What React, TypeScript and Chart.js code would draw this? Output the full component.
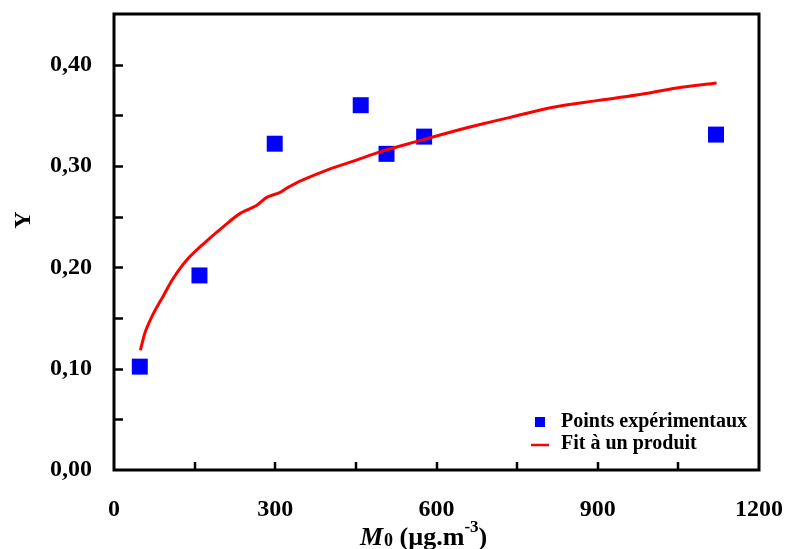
import React, { useEffect, useRef } from 'react';
import { Chart, registerables } from 'chart.js';

Chart.register(...registerables);

// Experimental points
const expX = [48, 159, 299, 459, 507, 577, 1120];
const expY = [0.102, 0.192, 0.322, 0.36, 0.312, 0.329, 0.331];

// Fitted curve
const fitX = [49, 58, 73, 92, 110, 135, 166, 203, 234, 265, 284, 309, 321, 346, 396, 452, 495, 569, 644, 681, 737, 817, 898, 972, 1047, 1121];
const fitY = [0.118, 0.136, 0.154, 0.172, 0.189, 0.207, 0.223, 0.24, 0.253, 0.261, 0.269, 0.274, 0.278, 0.285, 0.296, 0.306, 0.314, 0.325, 0.336, 0.341, 0.348, 0.358, 0.3645, 0.37, 0.377, 0.382];

const xTickLabels = ['0', '300', '600', '900', '1200'];
const yTickLabels = ['0,00', '0,10', '0,20', '0,30', '0,40'];
const legendLabels = ['Points expérimentaux', 'Fit à un produit'];

const FONT = '"Liberation Serif", "Times New Roman", serif';

const noPad = (s: any) => {
  s.paddingLeft = 0;
  s.paddingRight = 0;
  s.paddingTop = 0;
  s.paddingBottom = 0;
};

export default function App() {
  const ref = useRef<HTMLCanvasElement>(null);

  useEffect(() => {
    const canvas = ref.current!;
    const overlay = {
      id: 'overlay',
      afterDraw(chart: any) {
        const ctx = chart.ctx as CanvasRenderingContext2D;
        const a = chart.chartArea;
        const xs = chart.scales.x;
        const ys = chart.scales.y;
        ctx.save();
        // frame
        ctx.strokeStyle = '#000';
        ctx.lineWidth = 3;
        ctx.strokeRect(a.left, a.top, a.right - a.left, a.bottom - a.top);
        // inward ticks
        ctx.lineWidth = 2.5;
        for (let v = 0.05; v < 0.449; v += 0.05) {
          const y = Math.round(ys.getPixelForValue(v)) + 0.5;
          ctx.beginPath();
          ctx.moveTo(a.left, y);
          ctx.lineTo(a.left + 9, y);
          ctx.stroke();
        }
        for (let v = 150; v < 1200; v += 150) {
          const x = Math.round(xs.getPixelForValue(v));
          ctx.beginPath();
          ctx.moveTo(x, a.bottom);
          ctx.lineTo(x, a.bottom - 8);
          ctx.stroke();
        }
        // legend
        ctx.fillStyle = '#0000ff';
        ctx.fillRect(535, 417, 10, 10);
        ctx.strokeStyle = '#ff0000';
        ctx.lineWidth = 2.5;
        ctx.beginPath();
        ctx.moveTo(531, 445);
        ctx.lineTo(549, 445);
        ctx.stroke();
        ctx.fillStyle = '#000';
        ctx.font = `bold 20px ${FONT}`;
        ctx.textBaseline = 'middle';
        ctx.textAlign = 'left';
        ctx.fillText(legendLabels[0], 561, 422);
        ctx.fillText(legendLabels[1], 561, 444);
        // Y title
        ctx.save();
        ctx.translate(30, 220);
        ctx.rotate(-Math.PI / 2);
        ctx.textAlign = 'center';
        ctx.textBaseline = 'alphabetic';
        ctx.font = `bold 24px ${FONT}`;
        ctx.fillText('Y', 0, 0);
        ctx.restore();
        // X title
        ctx.textBaseline = 'alphabetic';
        let x = 360;
        const base = 545;
        ctx.font = `italic bold 26px ${FONT}`;
        ctx.fillText('M', x, base);
        x += ctx.measureText('M').width + 1;
        ctx.font = `bold 18px ${FONT}`;
        ctx.fillText('0', x, base + 1);
        x += ctx.measureText('0').width;
        ctx.font = `bold 26px ${FONT}`;
        ctx.fillText(' (µg.m', x, base);
        x += ctx.measureText(' (µg.m').width;
        ctx.font = `bold 17px ${FONT}`;
        ctx.fillText('-3', x, base - 13);
        x += ctx.measureText('-3').width;
        ctx.font = `bold 26px ${FONT}`;
        ctx.fillText(')', x, base);
        ctx.restore();
      },
    };

    const chart = new Chart(canvas, {
      type: 'scatter',
      data: {
        datasets: [
          {
            label: legendLabels[1],
            data: fitX.map((x, i) => ({ x, y: fitY[i] })),
            showLine: true,
            borderColor: '#ff0000',
            borderWidth: 3,
            pointRadius: 0,
            tension: 0.3,
            order: 0,
          },
          {
            label: legendLabels[0],
            data: expX.map((x, i) => ({ x, y: expY[i] })),
            pointStyle: 'rect',
            pointRadius: 11.3,
            backgroundColor: '#0000ff',
            borderColor: '#0000ff',
            borderWidth: 0,
            order: 1,
          },
        ],
      },
      options: {
        responsive: false,
        devicePixelRatio: 1,
        animation: false,
        layout: { padding: { top: 14, right: 28, left: 0, bottom: 0 } },
        plugins: { legend: { display: false }, tooltip: { enabled: false } },
        scales: {
          x: {
            type: 'linear',
            min: 0,
            max: 1200,
            grid: { display: false, drawTicks: false },
            border: { display: false },
            afterFit: (s: any) => { s.height = 79; noPad(s); },
            ticks: {
              stepSize: 150,
              padding: 25,
              color: '#000',
              font: { family: FONT, size: 24, weight: 'bold' },
              maxRotation: 0,
              autoSkip: false,
              callback: (v: any) => (v % 300 === 0 ? xTickLabels[v / 300] : ''),
            },
          },
          y: {
            type: 'linear',
            min: 0,
            max: 0.45,
            grid: { display: false, drawTicks: false },
            border: { display: false },
            afterFit: (s: any) => { s.width = 114; noPad(s); },
            ticks: {
              stepSize: 0.05,
              padding: 22,
              color: '#000',
              autoSkip: false,
              font: { family: FONT, size: 24, weight: 'bold' },
              callback: (v: any) => {
                const k = Math.round(v * 100);
                return k % 10 === 0 ? yTickLabels[k / 10] ?? '' : '';
              },
            },
          },
        },
      },
      plugins: [overlay],
    } as any);
    return () => chart.destroy();
  }, []);

  return (
    <div style={{ position: 'absolute', left: 0, top: 0 }}>
      <canvas ref={ref} width={787} height={549} style={{ display: 'block' }} />
    </div>
  );
}
